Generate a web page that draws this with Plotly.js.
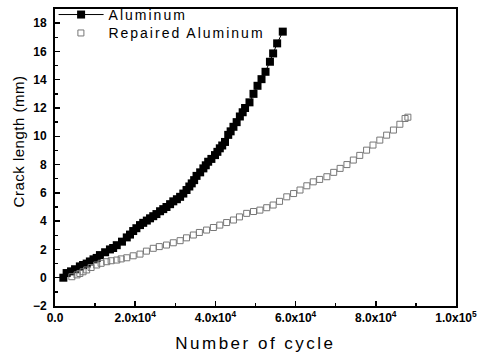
<!DOCTYPE html>
<html>
<head>
<meta charset="utf-8">
<script src="https://cdn.plot.ly/plotly-3.0.1.min.js"></script>
<style>
html,body{margin:0;padding:0;background:#fff;}
#chart{width:480px;height:356px;}
#chart .scrollbox{clip-path:none !important;}
</style>
</head>
<body>
<div id="chart"></div>
<script>
// Aluminum series
const alCycles = [2080,2900,4000,5000,6200,7000,7900,8700,9600,10400,11200,12500,13700,14500,15400,16700,17900,18700,19500,20300,21200,22000,22900,23700,24500,25300,26200,27000,27800,28700,29500,30400,31200,32000,32800,33500,34100,34700,35300,36200,37000,37600,38200,39000,39900,40500,41100,41700,42400,43200,43800,44500,45300,46100,46800,47400,48500,49500,50500,51500,52500,53600,54400,55400,56800];
const alCrack = [0,0.33,0.45,0.6,0.8,0.9,1.0,1.15,1.3,1.4,1.6,1.8,2.0,2.1,2.3,2.55,2.85,3.05,3.3,3.5,3.72,3.88,4.04,4.2,4.35,4.5,4.7,4.85,5.0,5.2,5.4,5.55,5.72,5.95,6.2,6.45,6.67,6.9,7.2,7.45,7.73,7.95,8.2,8.4,8.67,8.9,9.15,9.35,9.6,10.1,10.35,10.67,11.0,11.4,11.7,12.0,12.4,13.0,13.57,14.04,14.56,15.27,15.86,16.57,17.4];

// Repaired Aluminum series
const repCycles = [4200,5500,6200,7000,7900,9000,10400,11500,12900,14000,15400,16500,17900,19500,21200,22800,24500,26000,27800,29500,31200,32800,34500,36000,37800,39500,41100,42800,44500,46000,47800,49500,51100,52800,54400,56000,57800,59500,61100,62800,64400,66000,67800,69500,71100,72800,74400,76000,77700,79300,81000,82700,84400,86000,87300,88000];
const repCrack = [0.07,0.2,0.3,0.42,0.55,0.72,0.9,1.02,1.13,1.2,1.25,1.33,1.41,1.55,1.67,1.88,2.08,2.2,2.31,2.47,2.62,2.82,3.02,3.2,3.37,3.55,3.72,3.9,4.08,4.3,4.55,4.68,4.78,4.95,5.14,5.4,5.72,5.95,6.2,6.5,6.78,6.95,7.14,7.45,7.73,8.0,8.32,8.65,9.02,9.38,9.73,10.08,10.44,10.85,11.26,11.35];

// Axis ticks
const xTickVals = [0,20000,40000,60000,80000,100000];
const xTickText = ['0.0','2.0x10<sup>4</sup>','4.0x10<sup>4</sup>','6.0x10<sup>4</sup>','8.0x10<sup>4</sup>','1.0x10<sup>5</sup>'];
const xMinorVals = [10000,30000,50000,70000,90000];

const FONT = 'Liberation Sans, Arial, sans-serif';
const legendNames = ['Aluminum', 'Repaired Aluminum'];

const traces = [
  {
    x: alCycles, y: alCrack, name: legendNames[0], type: 'scatter', mode: 'lines+markers',
    line: {color: '#000', width: 1},
    marker: {symbol: 'square', size: 8, color: '#000'},
    legend: 'legend'
  },
  {
    x: repCycles, y: repCrack, name: legendNames[1], type: 'scatter', mode: 'markers',
    marker: {symbol: 'square-open', size: 6, color: '#777', line: {width: 1, color: '#777'}},
    legend: 'legend2'
  }
];

function legendOpts(x, y) {
  return {
    x: x, y: y, xanchor: 'left', yanchor: 'middle',
    bgcolor: 'rgba(0,0,0,0)', borderwidth: 0,
    font: {family: FONT, size: 14, color: '#000'},
    itemwidth: 45
  };
}

const layout = {
  width: 480, height: 356,
  font: {family: FONT, size: 14, color: '#000'},
  margin: {l: 55, r: 24, t: 9, b: 50, autoexpand: false},
  paper_bgcolor: '#fff', plot_bgcolor: '#fff',
  showlegend: true,
  legend: legendOpts(-0.0035, 0.98),
  legend2: legendOpts(-0.004, 0.918),
  xaxis: {
    range: [0, 100000], tickmode: 'array', tickvals: xTickVals, ticktext: xTickText,
    ticks: 'inside', ticklen: 5, tickwidth: 1.5, tickcolor: '#000',
    showline: true, linecolor: '#000', linewidth: 2, mirror: true,
    showgrid: false, zeroline: false, automargin: false,
    tickfont: {family: FONT, size: 12, color: '#000', weight: 'bold'},
    minor: {tickmode: 'array', tickvals: xMinorVals, ticks: 'inside', ticklen: 3, tickwidth: 1.5, tickcolor: '#000', showgrid: false}
  },
  yaxis: {
    range: [-2, 19], tickmode: 'linear', tick0: -2, dtick: 2,
    ticks: 'inside', ticklen: 5, tickwidth: 1.5, tickcolor: '#000',
    showline: true, linecolor: '#000', linewidth: 2, mirror: true,
    showgrid: false, zeroline: false, automargin: false,
    tickfont: {family: FONT, size: 12, color: '#000', weight: 'bold'},
    ticklabelstandoff: 4,
    minor: {dtick: 1, ticks: 'inside', ticklen: 3, tickwidth: 1.5, tickcolor: '#000', showgrid: false}
  },
  annotations: [
    {text: 'Number of cycle', xref: 'paper', yref: 'paper', x: 0.5, y: -0.125,
     xanchor: 'center', yanchor: 'middle', showarrow: false,
     font: {family: FONT, size: 17, color: '#000'}},
    {text: 'Crack length (mm)', xref: 'paper', yref: 'paper', x: -0.092, y: 0.552,
     xanchor: 'center', yanchor: 'middle', showarrow: false, textangle: -90,
     font: {family: FONT, size: 15, color: '#000'}}
  ]
};

let styling = false;
function styleText() {
  if (styling) return;
  styling = true;
  document.querySelectorAll('#chart text').forEach(function(t){
    const s = t.textContent;
    if (s === 'Number of cycle') t.style.letterSpacing = '2.5px';
    else if (s === 'Crack length (mm)') t.style.letterSpacing = '0.5px';
    else if (legendNames.indexOf(s) >= 0) {
      t.style.letterSpacing = '2px';
      t.style.fontSize = '14px';
    }
  });
  document.querySelectorAll('#chart .scrollbox').forEach(function(g){
    g.removeAttribute('clip-path');
  });
  styling = false;
}

const gd = document.getElementById('chart');
const obs = new MutationObserver(function(){ styleText(); });
obs.observe(gd, {childList: true, subtree: true});
Plotly.newPlot(gd, traces, layout, {staticPlot: true}).then(function(){
  styleText();
});
</script>
</body>
</html>
